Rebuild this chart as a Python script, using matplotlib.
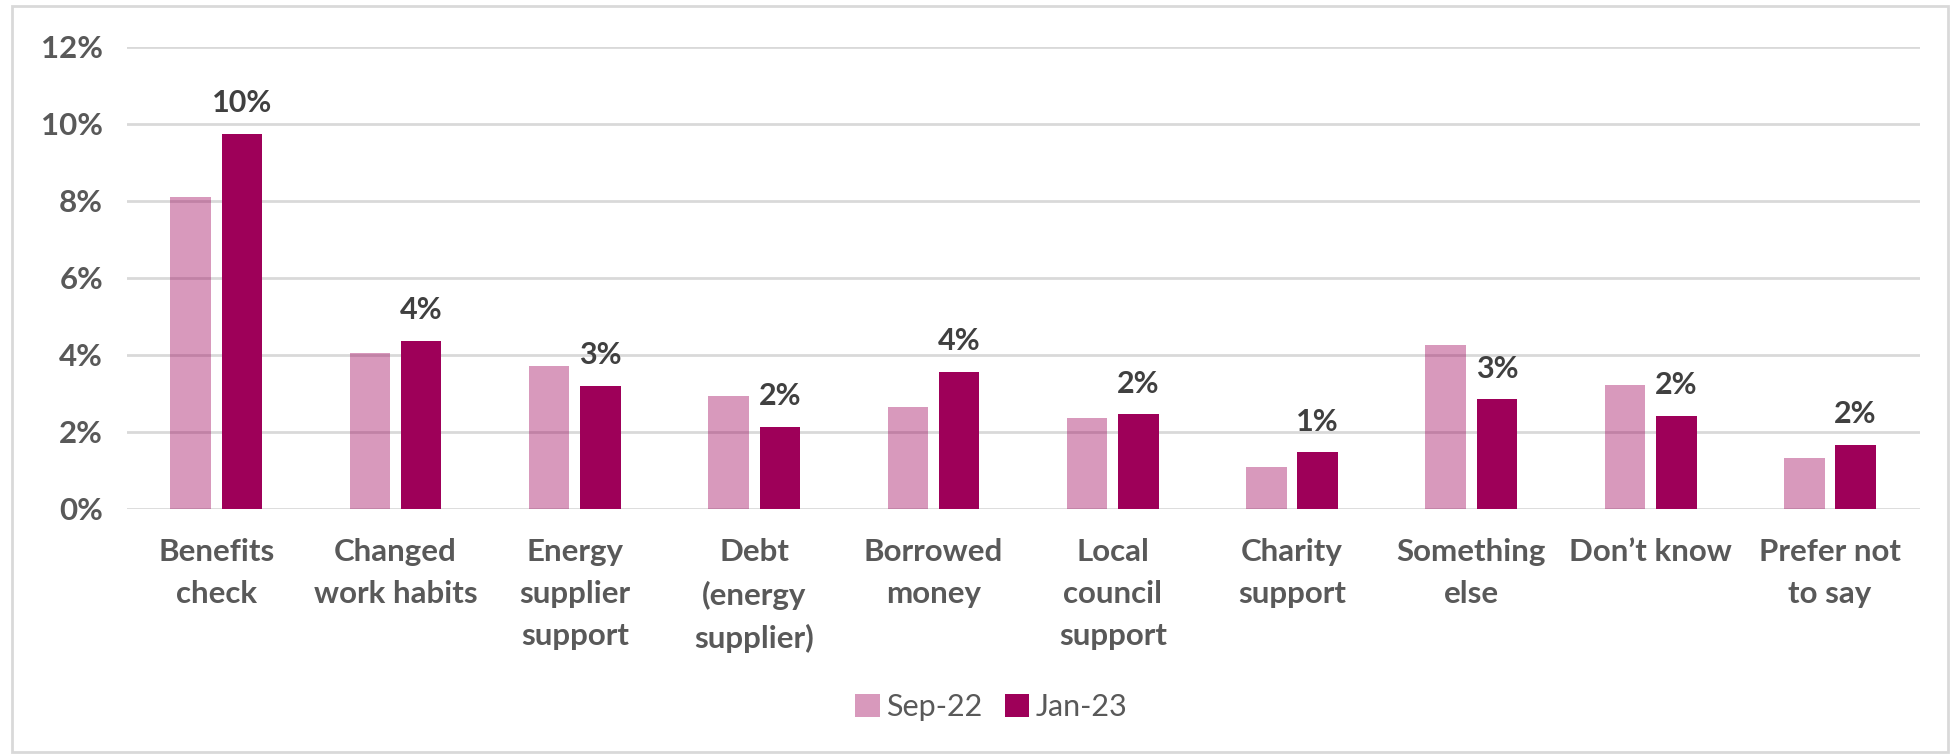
import matplotlib
matplotlib.use("Agg")
import matplotlib.pyplot as plt
from matplotlib.patches import Rectangle, Patch
from matplotlib.ticker import FuncFormatter
import numpy as np

categories = ["Benefits\ncheck", "Changed\nwork habits", "Energy\nsupplier\nsupport",
              "Debt\n(energy\nsupplier)", "Borrowed\nmoney", "Local\ncouncil\nsupport",
              "Charity\nsupport", "Something\nelse", "Don\u2019t know", "Prefer not\nto say"]
sep22 = [8.1, 4.04, 3.71, 2.94, 2.65, 2.37, 1.09, 4.27, 3.22, 1.33]
jan23 = [9.74, 4.37, 3.19, 2.13, 3.57, 2.46, 1.47, 2.85, 2.42, 1.67]
jan_labels = ["10%", "4%", "3%", "2%", "4%", "2%", "1%", "3%", "2%", "2%"]
series_names = ["Sep-22", "Jan-23"]
yticks = [0, 2, 4, 6, 8, 10, 12]

plt.rcParams['font.family'] = ['Lato', 'DejaVu Sans']

fig = plt.figure(figsize=(19.51, 7.54), dpi=100)
ax = fig.add_axes([0.0649, 0.325, 0.919, 0.6127])

base = "#9E0059"
x = np.arange(len(categories))
off = 0.143
w = 0.226
ax.bar(x - off, sep22, width=w, color=base, alpha=0.4, zorder=3, linewidth=0)
ax.bar(x + off, jan23, width=w, color=base, zorder=3, linewidth=0)

for xi, v, lab in zip(x, jan23, jan_labels):
    ax.annotate(lab, (xi + off, v), xytext=(0, 12), textcoords="offset points",
                ha="center", va="bottom", fontsize=22, fontweight="bold", color="#404040")

ax.set_xlim(-0.5, len(categories) - 0.5)
ax.set_ylim(0, 12)
ax.set_yticks(yticks)
ax.yaxis.set_major_formatter(FuncFormatter(lambda v, p: f"{v:.0f}%"))
ax.set_xticks(x)
ax.set_xticklabels(categories, fontsize=22.5, fontweight="bold", color="#595959",
                   linespacing=1.6, va="top")
ax.tick_params(axis="x", length=0, pad=21)
ax.tick_params(axis="y", length=0, pad=17, labelsize=22.5, labelcolor="#595959")
for t in ax.get_yticklabels():
    t.set_fontweight("bold")
ax.grid(axis="y", color="#D9D9D9", linewidth=2, zorder=0)
ax.set_axisbelow(True)
for s in ax.spines.values():
    s.set_visible(False)

handles = [Patch(facecolor=base, alpha=0.4, linewidth=0), Patch(facecolor=base, linewidth=0)]
leg = fig.legend(handles, series_names, loc="center", bbox_to_anchor=(0.508, 0.062),
                 ncol=2, frameon=False, fontsize=22, handlelength=0.8, handleheight=0.8,
                 handletextpad=0.2, columnspacing=0.75)
for t in leg.get_texts():
    t.set_color("#595959")

fig.patches.append(Rectangle((12 / 1951, 0.002), (1948 - 12) / 1951, 1 - 6 / 754 - 0.002,
                             transform=fig.transFigure, fill=False,
                             edgecolor="#D9D9D9", linewidth=2))

fig.savefig("out.png", dpi=100)
